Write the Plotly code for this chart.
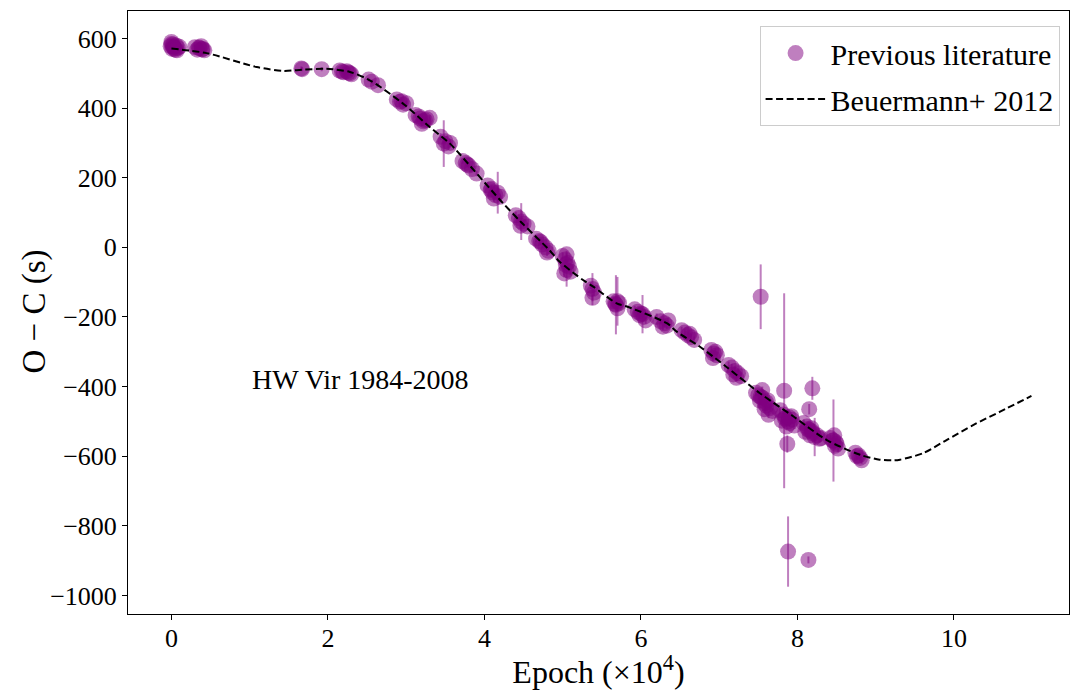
import plotly.graph_objects as go

# ---- observed O-C data (Epoch in units of 1e4, O-C in s, error in s) ----
epoch = [
    -0.01, 0.00, 0.01, 0.02, 0.03, 0.05, 0.06, 0.08, 0.10, 0.00, 0.02, 0.04, 0.07,
    0.30, 0.33, 0.36, 0.38, 0.40, 0.42, 0.35, 0.39,
    1.66, 1.67, 1.92,
    2.15, 2.20, 2.24, 2.28, 2.30, 2.18, 2.26,
    2.52, 2.56, 2.64,
    2.88, 2.92, 2.96, 3.00, 2.94,
    3.12, 3.18, 3.20, 3.22, 3.26, 3.30, 3.16, 3.24,
    3.44, 3.48, 3.50, 3.54, 3.56,
    3.72, 3.76, 3.80, 3.84, 3.90, 3.78,
    4.04, 4.08, 4.10, 4.12, 4.14, 4.17, 4.20, 4.09,
    4.40, 4.44, 4.46, 4.47, 4.50, 4.55,
    4.66, 4.70, 4.72, 4.74, 4.78, 4.80, 4.82,
    5.00, 5.02, 5.03, 5.05, 5.05, 5.06, 5.08, 5.10, 5.04,
    5.36, 5.38, 5.38, 5.40,
    5.65, 5.68, 5.70, 5.70, 5.72, 5.67,
    5.92, 5.96, 5.98, 6.00, 6.02, 6.04, 6.06,
    6.20, 6.25, 6.28, 6.30, 6.33, 6.35,
    6.52, 6.56, 6.60, 6.62, 6.64, 6.68,
    6.90, 6.92, 6.93, 6.95, 6.97,
    7.12, 7.16, 7.18, 7.20, 7.22, 7.24, 7.28,
    7.53,
    7.47, 7.50, 7.52, 7.55, 7.55, 7.58, 7.58, 7.60, 7.62, 7.63, 7.65, 7.68, 7.53, 7.60,
    7.83,
    7.78, 7.80, 7.82, 7.85, 7.86, 7.88, 7.90, 7.92, 7.93, 7.96, 7.84, 7.89,
    7.87, 7.88,
    8.19, 8.15, 8.14,
    8.08, 8.10, 8.12, 8.15, 8.16, 8.18, 8.20, 8.22, 8.25, 8.28, 8.30, 8.13, 8.19,
    8.42, 8.45, 8.46, 8.47, 8.48, 8.50, 8.52, 8.49,
    8.74, 8.76, 8.78, 8.80, 8.82,
]
oc = [
    578, 590, 570, 583, 575, 568, 580, 573, 576, 584, 577, 571, 566,
    575, 568, 572, 578, 570, 566, 574, 569,
    514, 512, 512,
    508, 503, 506, 500, 497, 505, 502,
    482, 476, 466,
    425, 418, 410, 414, 420,
    380, 370, 355, 362, 368, 372, 376, 365,
    318, 298, 305, 290, 300,
    248, 242, 235, 225, 212, 238,
    178, 165, 158, 140, 150, 157, 145, 168,
    92, 84, 62, 74, 68, 60,
    25, 18, 15, 8, 0, -15, -10,
    -25, -75, -35, -20, -65, -45, -55, -70, -50,
    -110, -120, -145, -130,
    -155, -165, -155, -175, -160, -162,
    -178, -185, -195, -190, -192, -200, -210,
    -200, -212, -228, -218, -225, -210,
    -238, -245, -252, -248, -258, -266,
    -295, -318, -305, -300, -310,
    -338, -345, -365, -355, -375, -362, -370,
    -142,
    -418, -425, -440, -432, -410, -448, -465, -455, -440, -481, -462, -470, -430, -445,
    -412,
    -468, -498, -480, -490, -515, -500, -505, -485, -495, -512, -492, -488,
    -565, -874,
    -405, -465, -898,
    -505, -530, -515, -525, -540, -520, -535, -545, -540, -550, -548, -522, -530,
    -548, -555, -555, -540, -570, -565, -578, -560,
    -590, -600, -598, -605, -612,
]
oc_err = [
    8, 8, 8, 8, 8, 8, 8, 8, 8, 8, 8, 8, 8,
    8, 8, 8, 8, 8, 8, 8, 8,
    6, 6, 6,
    6, 6, 6, 6, 6, 6, 6,
    6, 6, 6,
    8, 8, 8, 8, 8,
    8, 8, 8, 8, 8, 8, 8, 8,
    10, 67, 10, 10, 10,
    8, 8, 8, 8, 8, 8,
    10, 10, 10, 10, 10, 60, 10, 10,
    10, 10, 10, 53, 10, 10,
    10, 10, 10, 10, 10, 10, 10,
    10, 10, 10, 10, 48, 10, 10, 10, 10,
    10, 46, 10, 10,
    10, 85, 70, 10, 10, 10,
    10, 10, 10, 10, 55, 10, 10,
    10, 10, 10, 10, 10, 10,
    10, 10, 10, 10, 10, 10,
    10, 10, 10, 10, 10,
    10, 10, 10, 10, 10, 10, 10,
    93,
    10, 10, 10, 10, 10, 10, 10, 10, 10, 10, 10, 10, 10, 10,
    280,
    10, 10, 10, 10, 10, 10, 10, 10, 10, 10, 10, 10,
    25, 101,
    33, 15, 10,
    10, 10, 10, 10, 10, 10, 10, 55, 10, 10, 10, 10, 10,
    10, 10, 118, 10, 10, 10, 10, 10,
    10, 10, 10, 10, 10,
]

# ---- Beuermann+ 2012 model curve ----
curve_epoch = [0.0, 0.45, 1.09, 1.43, 1.60, 1.98, 2.28, 2.535, 2.96, 3.30, 3.56,
               3.64, 4.20, 4.47, 4.83, 4.96, 5.26, 5.39, 5.69, 5.82, 6.33, 6.455,
               6.75, 7.09, 7.52, 7.95, 8.37, 8.80, 9.05, 9.22, 9.31, 9.61, 9.91,
               10.25, 10.59, 10.99]
curve_oc = [571, 558, 518, 507, 509, 513, 504, 480, 413, 346, 298,
            279, 136, 72, -8, -41, -94, -113, -161, -170, -218, -242,
            -285, -343, -419, -486, -553, -596, -610, -612, -610, -591, -553,
            -510, -472, -427]

x_ticks = [0, 2, 4, 6, 8, 10]
y_ticks = [600, 400, 200, 0, -200, -400, -600, -800, -1000]

FONT = "Liberation Serif"
PURPLE_A = "rgba(128,0,128,0.5)"

fig = go.Figure()
fig.add_trace(go.Scatter(
    x=epoch, y=oc, mode="markers", name="Previous literature",
    marker=dict(size=16, color=PURPLE_A, line=dict(width=0)),
    error_y=dict(type="data", array=oc_err, visible=True, color=PURPLE_A,
                 thickness=2, width=0),
    legendgroup="a",
))
fig.add_trace(go.Scatter(
    x=curve_epoch, y=curve_oc, mode="lines", name="Beuermann+ 2012",
    line=dict(color="black", width=2, dash="7px,3.5px", shape="spline", smoothing=0.8),
    legendgroup="b",
))

fig.add_annotation(x=1.0, y=-381, text="HW Vir 1984-2008", showarrow=False,
                   xanchor="left", yanchor="middle", xref="x", yref="y",
                   font=dict(family=FONT, size=28, color="black"))

# y-axis title placed as in the reference
fig.add_annotation(x=(35 - 128) / 941, y=1 - (311.5 - 10.7) / 603.6,
                   xref="paper", yref="paper", text="O − C (s)", textangle=-90,
                   showarrow=False, xanchor="center", yanchor="middle",
                   font=dict(family=FONT, size=33, color="black"))

axis_common = dict(showline=True, mirror=True, linecolor="black", linewidth=1,
                   ticks="outside", ticklen=5, tickwidth=1, tickcolor="black",
                   showgrid=False, zeroline=False,
                   tickfont=dict(family=FONT, size=26, color="black"))

fig.update_xaxes(range=[-0.555, 11.47], tickvals=x_ticks, ticklabelstandoff=-4,
                 title=dict(text="Epoch (×10<sup>4</sup>)", standoff=10,
                            font=dict(family=FONT, size=32, color="black")),
                 **axis_common)
fig.update_yaxes(range=[-1053.4, 679], tickvals=y_ticks, **axis_common)

fig.update_layout(
    width=1070, height=690,
    margin=dict(l=128, r=1, t=11, b=76),
    plot_bgcolor="white", paper_bgcolor="white",
    font=dict(family=FONT, color="black"),
    legend=dict(x=0.990, y=0.975, xanchor="right", yanchor="top",
                bgcolor="rgba(255,255,255,0.8)", bordercolor="#cccccc", borderwidth=1,
                font=dict(family=FONT, size=30, color="black"),
                tracegroupgap=4, itemsizing="trace", itemwidth=60),
)

fig.write_html("out.html")
